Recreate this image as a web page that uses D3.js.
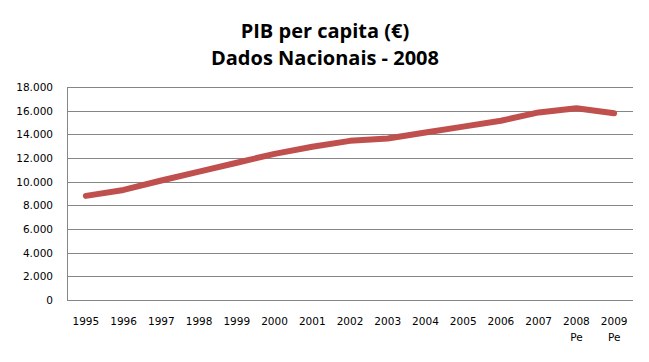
<!DOCTYPE html>
<html>
<head>
    <style>
        body { margin: 0; background: #fff; }
        .title { font: bold 20px "Open Sans", "Liberation Sans", sans-serif; text-anchor: middle; fill: #000; }
    </style>
    <script src="https://d3js.org/d3.v7.min.js"></script>
</head>
<body>
    <svg width="649" height="362"></svg>
    <script>
        var years = ["1995", "1996", "1997", "1998", "1999", "2000", "2001", "2002",
                     "2003", "2004", "2005", "2006", "2007", "2008", "2009"];
        var subLabels = ["", "", "", "", "", "", "", "", "", "", "", "", "", "Pe", "Pe"];
        var pib = [8800, 9300, 10100, 10850, 11600, 12350, 12950, 13450,
                   13650, 14150, 14650, 15150, 15850, 16200, 15780];
        var yTicks = [0, 2000, 4000, 6000, 8000, 10000, 12000, 14000, 16000, 18000];

        var svg = d3.select("svg"),
            margin = {left: 67, right: 16, top: 87, bottom: 62},
            width = 649 - margin.left - margin.right,
            height = 362 - margin.top - margin.bottom;

        // title
        svg.append("text").attr("class", "title").attr("x", 325).attr("y", 38).text("PIB per capita (€)");
        svg.append("text").attr("class", "title").attr("x", 325).attr("y", 65).text("Dados Nacionais - 2008");

        var g = svg.append("g")
                   .attr("transform", "translate(" + margin.left + "," + margin.top + ")");

        var x = d3.scaleBand().domain(years).range([0, width]);
        var y = d3.scaleLinear().domain([0, 18000]).range([height, 0]);

        var fmt = function(d) { return d3.format(",")(d).replace(/,/g, "."); };

        // gridlines
        g.selectAll(".grid")
         .data(yTicks)
         .enter().append("line")
         .attr("x1", 0).attr("x2", width)
         .attr("y1", function(d) { return Math.round(y(d)) + 0.5; })
         .attr("y2", function(d) { return Math.round(y(d)) + 0.5; })
         .attr("stroke", "#868686").attr("stroke-width", 1);

        g.append("line")
         .attr("x1", 0.5).attr("x2", 0.5).attr("y1", 0).attr("y2", height)
         .attr("stroke", "#868686");

        // y axis labels
        var yAxis = g.append("g")
            .call(d3.axisLeft(y).tickValues(yTicks).tickFormat(fmt).tickSize(0).tickPadding(14));
        yAxis.select(".domain").remove();

        // x axis labels
        var xAxis = g.append("g")
            .attr("transform", "translate(0," + height + ")")
            .call(d3.axisBottom(x).tickSize(0).tickPadding(18));
        xAxis.select(".domain").remove();
        xAxis.selectAll(".tick").append("text")
             .attr("y", 34).attr("dy", "0.71em")
             .text(function(d, i) { return subLabels[i]; });

        [xAxis, yAxis].forEach(function(a) {
            a.attr("font-family", "DejaVu Sans").attr("font-size", 10.5);
            a.selectAll("text").attr("fill", "#000");
        });

        // line
        var line = d3.line()
                     .x(function(d, i) { return x(years[i]) + x.bandwidth() / 2; })
                     .y(function(d) { return y(d); });

        g.append("path")
         .datum(pib)
         .attr("d", line)
         .attr("fill", "none")
         .attr("stroke", "#C0504D")
         .attr("stroke-width", 6)
         .attr("stroke-linecap", "round")
         .attr("stroke-linejoin", "round");
    </script>
</body>
</html>
